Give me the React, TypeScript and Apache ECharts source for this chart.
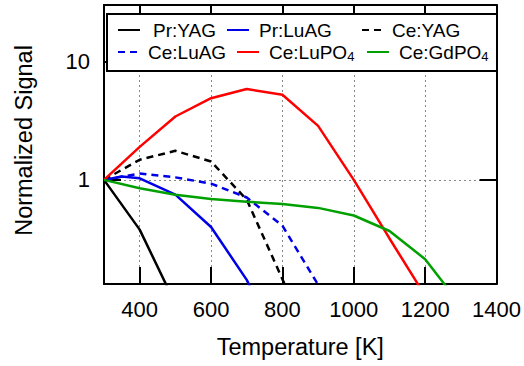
import React, { useEffect, useRef } from 'react';
import * as echarts from 'echarts';

// ---- data ----
const seriesNames = ['Pr:YAG', 'Pr:LuAG', 'Ce:YAG', 'Ce:LuAG', 'Ce:LuPO4', 'Ce:GdPO4'];

const tPrYAG = [300, 400, 500];
const vPrYAG = [1, 0.38, 0.09];

const tPrLuAG = [300, 350, 400, 500, 600, 700, 800];
const vPrLuAG = [1, 1.07, 1.03, 0.75, 0.4, 0.143, 0.035];

const tCeYAG = [300, 400, 500, 600, 700, 800, 900];
const vCeYAG = [1, 1.48, 1.76, 1.43, 0.68, 0.145, 0.03];

const tCeLuAG = [300, 400, 500, 600, 700, 800, 900, 1000];
const vCeLuAG = [1, 1.13, 1.05, 0.93, 0.71, 0.41, 0.13, 0.03];

const tCeLuPO4 = [300, 400, 500, 600, 700, 800, 900, 1000, 1100, 1200];
const vCeLuPO4 = [1, 1.9, 3.43, 4.9, 5.85, 5.23, 2.86, 1.0, 0.32, 0.105];

const tCeGdPO4 = [300, 400, 500, 600, 700, 800, 900, 1000, 1100, 1200, 1300];
const vCeGdPO4 = [1, 0.85, 0.75, 0.69, 0.655, 0.625, 0.58, 0.5, 0.37, 0.214, 0.087];

const xTickValues = [400, 600, 800, 1000, 1200, 1400];
const xInnerTicks = [400, 600, 800, 1000, 1200];
const yLabelValues = [1, 10];

const allT = [tPrYAG, tPrLuAG, tCeYAG, tCeLuAG, tCeLuPO4, tCeGdPO4];
const allV = [vPrYAG, vPrLuAG, vCeYAG, vCeLuAG, vCeLuPO4, vCeGdPO4];

// ---- styles ----
const FONT = "'Liberation Sans', Arial, sans-serif";
const lineColors = ['#000000', '#0000e6', '#000000', '#0000e6', '#ff0000', '#00a000'];
const lineDash: any[] = ['solid', 'solid', [7, 5], [7, 5], 'solid', 'solid'];
const legendPos = [
  { left: 117, top: 19, gap: 8 },
  { left: 226, top: 19, gap: 5 },
  { left: 361, top: 19, gap: 3 },
  { left: 117, top: 41, gap: 3 },
  { left: 236, top: 41, gap: 5 },
  { left: 366, top: 41, gap: 5 },
];

function fmtName(name: string) {
  const m = name.match(/^(.*PO)(\d)$/);
  if (m) return `{a|${m[1]}}{s|${m[2]}}`;
  return `{a|${name}}`;
}

export default function App() {
  const ref = useRef<HTMLDivElement>(null);
  useEffect(() => {
    if (!ref.current) return;
    const chart = echarts.init(ref.current, undefined, { renderer: 'svg' });

    const series = seriesNames.map((name, i) => ({
      name,
      type: 'line',
      data: allT[i].map((t, j) => [t, allV[i][j]]),
      symbol: 'none',
      clip: true,
      z: 2,
      lineStyle: { color: lineColors[i], width: 2.5, type: lineDash[i] },
      itemStyle: { color: lineColors[i] },
    }));

    const legends = seriesNames.map((name, i) => ({
      show: true,
      data: [name],
      left: legendPos[i].left,
      top: legendPos[i].top,
      padding: 0,
      itemWidth: 22,
      itemHeight: 14,
      z: 5,
      itemStyle: { opacity: 0 },
      formatter: (n: string) => fmtName(n),
      textStyle: {
        color: '#000',
        fontFamily: FONT,
        fontSize: 19,
        lineHeight: 22,
        padding: [0, 0, 0, legendPos[i].gap],
        rich: {
          a: { fontSize: 19, fontFamily: FONT, color: '#000', lineHeight: 22, verticalAlign: 'middle' },
          s: { fontSize: 13, fontFamily: FONT, color: '#000', lineHeight: 11, verticalAlign: 'bottom' },
        },
      },
    }));

    const tickStyle = { show: true, inside: true, length: 17, lineStyle: { color: '#000', width: 2 } };
    const axisLine = { show: true, onZero: false, lineStyle: { color: '#000', width: 2 } };
    const gridLine = { show: true, lineStyle: { color: '#888', width: 1, type: [2, 3] } };

    chart.setOption({
      animation: false,
      backgroundColor: '#fff',
      grid: { left: 104, right: 26, top: 5, bottom: 82, containLabel: false },
      legend: legends,
      graphic: [
        {
          type: 'rect',
          z: 3,
          shape: { x: 107, y: 14, width: 390, height: 57 },
          style: { fill: '#fff', stroke: '#000', lineWidth: 2 },
        },
      ],
      xAxis: [
        {
          type: 'value',
          position: 'bottom',
          min: 300,
          max: 1400,
          name: 'Temperature [K]',
          nameLocation: 'middle',
          nameGap: 51,
          nameTextStyle: { fontSize: 23.5, fontFamily: FONT, color: '#000' },
          axisLine,
          axisTick: { ...tickStyle, customValues: xInnerTicks },
          axisLabel: {
            customValues: xTickValues,
            fontSize: 22,
            fontFamily: FONT,
            color: '#000',
            margin: 14,
            formatter: (v: number) => String(v),
          },
          splitLine: gridLine,
        },
        {
          type: 'value',
          position: 'top',
          min: 300,
          max: 1400,
          axisLine,
          axisTick: { ...tickStyle, customValues: xInnerTicks },
          axisLabel: { show: false },
          splitLine: { show: false },
        },
      ],
      yAxis: [
        {
          type: 'log',
          position: 'left',
          logBase: 10,
          min: 0.132,
          max: 30,
          name: 'Normalized Signal',
          nameLocation: 'middle',
          nameGap: 68,
          nameRotate: 90,
          nameTextStyle: { fontSize: 23.5, fontFamily: FONT, color: '#000', padding: [0, 0, 0, 8] },
          axisLine,
          axisTick: { ...tickStyle, customValues: yLabelValues },
          axisLabel: {
            customValues: yLabelValues,
            fontSize: 22,
            fontFamily: FONT,
            color: '#000',
            margin: 14,
            formatter: (v: number) => String(Math.round(v)),
          },
          splitLine: gridLine,
          minorTick: { show: false },
        },
        {
          type: 'log',
          position: 'right',
          logBase: 10,
          min: 0.132,
          max: 30,
          axisLine,
          axisTick: { ...tickStyle, customValues: yLabelValues },
          axisLabel: { show: false },
          splitLine: { show: false },
        },
      ],
      series,
    });
    return () => chart.dispose();
  }, []);
  return (
    <div
      ref={ref}
      style={{ position: 'fixed', left: 0, top: 0, width: 524, height: 366 }}
    />
  );
}
